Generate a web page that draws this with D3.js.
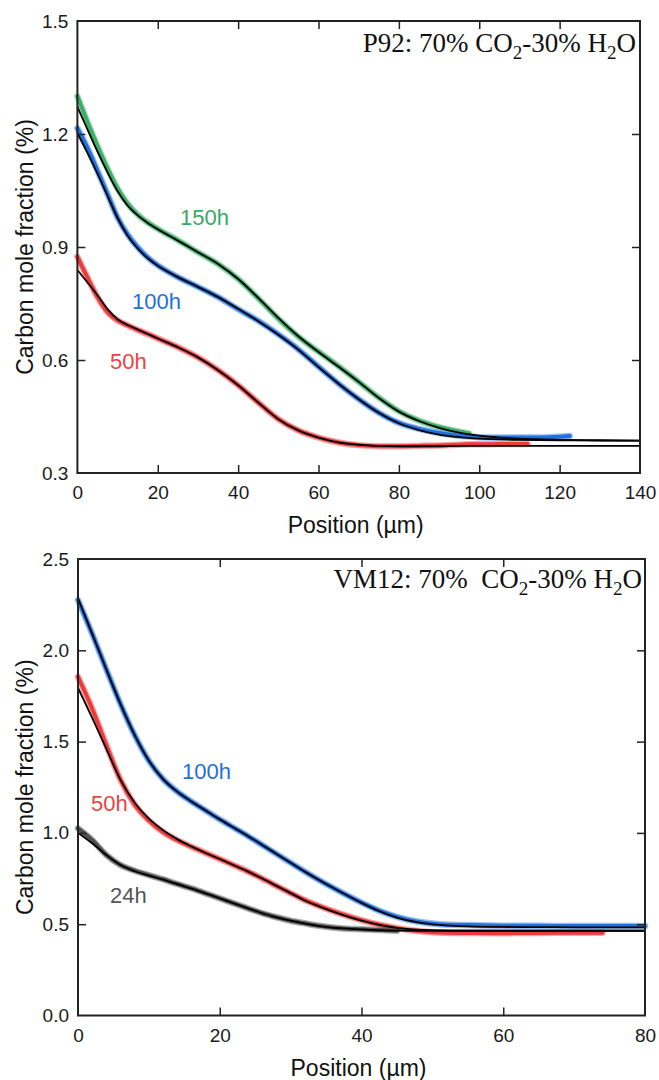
<!DOCTYPE html>
<html><head><meta charset="utf-8">
<script src="https://cdn.jsdelivr.net/npm/d3@7"></script>
<style>body{margin:0;background:#fff} svg{display:block}</style>
</head><body>
<svg id="chart" width="659" height="1080"></svg>
<script>
// ---------- Panel 1: P92 ----------
const p92MeasX = [0,2.5,5,7.5,10,12.5,15,17.5,20,25,30,35,40,45,50,55,60,65,70,75,80,85,90,95,97.5,100,105,110,112,115,120,122.5];
const p92Meas150 = [1.30,1.232,1.168,1.108,1.055,1.015,0.986,0.965,0.948,0.918,0.886,0.855,0.815,0.764,0.710,0.662,0.622,0.583,0.542,0.500,0.464,0.439,0.422,0.410,0.405,null,null,null,null,null,null,null];
const p92Meas100 = [1.215,1.163,1.102,1.040,0.978,0.933,0.899,0.872,0.851,0.820,0.794,0.767,0.735,0.704,0.668,0.628,0.582,0.537,0.496,0.460,0.433,0.417,0.406,0.399,0.397,0.395,0.394,0.394,0.394,0.394,0.396,0.398];
const p92Meas50 = [0.874,0.819,0.767,0.727,0.705,0.692,0.680,0.669,0.657,0.634,0.607,0.573,0.533,0.487,0.443,0.413,0.394,0.381,0.374,0.371,0.371,0.372,0.373,0.375,0.376,0.376,0.377,0.377,0.377,null,null,null];
const p92FitX = [0,2.5,5,7.5,10,12.5,15,17.5,20,25,30,35,40,45,50,55,60,65,70,75,80,85,90,95,100,110,120,130,140];
const p92Fit150 = [1.272,1.212,1.153,1.098,1.048,1.010,0.984,0.964,0.947,0.917,0.886,0.855,0.815,0.765,0.712,0.663,0.621,0.582,0.542,0.499,0.463,0.438,0.420,0.407,0.399,0.391,0.388,0.387,0.386];
const p92Fit100 = [1.202,1.150,1.095,1.036,0.977,0.930,0.896,0.870,0.850,0.820,0.794,0.767,0.736,0.703,0.667,0.627,0.581,0.537,0.496,0.460,0.432,0.414,0.402,0.395,0.391,0.388,0.387,0.386,0.386];
const p92Fit50 = [0.839,0.806,0.772,0.735,0.708,0.693,0.681,0.669,0.657,0.634,0.607,0.573,0.533,0.487,0.443,0.413,0.394,0.381,0.375,0.372,0.371,0.371,0.371,0.372,0.372,0.372,0.372,0.372,0.372];
const p92XTicks = [0,20,40,60,80,100,120,140];
const p92YTicks = [0.3,0.6,0.9,1.2,1.5];
const p92Labels = ["150h","100h","50h"];

// ---------- Panel 2: VM12 ----------
const vmMeasX = [0,2,4,6,8,10,12,14,16,18,20,22,24,26,28,30,32,34,37,40,42.5,45,48,51,55,60,65,70,74,80];
const vmMeas100 = [2.275,2.09,1.895,1.705,1.535,1.395,1.295,1.226,1.172,1.123,1.074,1.028,0.982,0.934,0.885,0.836,0.788,0.742,0.678,0.618,0.574,0.540,0.513,0.500,0.495,0.492,0.491,0.490,0.490,0.490];
const vmMeas50 = [1.855,1.68,1.48,1.29,1.155,1.068,1.005,0.960,0.924,0.890,0.857,0.823,0.788,0.750,0.710,0.670,0.632,0.600,0.558,0.522,0.497,0.478,0.463,0.455,0.452,0.451,0.452,0.453,0.453,null];
const vmMeas24 = [1.025,0.961,0.879,0.824,0.793,0.769,0.746,0.720,0.696,0.669,0.642,0.614,0.587,0.560,0.538,0.519,0.505,0.492,0.478,0.472,0.468,0.464,null,null,null,null,null,null,null,null];
const vmFitX = [0,2,4,6,8,10,12,14,16,18,20,22,24,26,28,30,32,34,37,40,42.5,45,48,51,55,60,65,70,80];
const vmFit100 = [2.285,2.09,1.895,1.705,1.535,1.395,1.295,1.226,1.172,1.123,1.074,1.028,0.982,0.934,0.885,0.836,0.788,0.742,0.678,0.617,0.572,0.536,0.510,0.496,0.488,0.485,0.484,0.483,0.483];
const vmFit50 = [1.795,1.63,1.46,1.29,1.165,1.078,1.015,0.966,0.926,0.890,0.857,0.823,0.788,0.750,0.710,0.670,0.630,0.598,0.555,0.519,0.496,0.480,0.470,0.466,0.464,0.464,0.464,0.464,0.464];
const vmFit24 = [1.001,0.943,0.879,0.824,0.790,0.766,0.744,0.719,0.695,0.669,0.642,0.614,0.587,0.560,0.538,0.519,0.503,0.490,0.478,0.471,0.467,0.465,0.464,0.464,0.464,0.464,0.464,0.464,0.464];
const vmXTicks = [0,20,40,60,80];
const vmYTicks = [0.0,0.5,1.0,1.5,2.0,2.5];
const vmLabels = ["100h","50h","24h"];

const svg = d3.select('#chart');
const FRAME = '#222';

function drawPanel(cfg) {
  const x = d3.scaleLinear().domain(cfg.xDomain).range([cfg.left, cfg.right]);
  const y = d3.scaleLinear().domain(cfg.yDomain).range([cfg.bottom, cfg.top]);
  const g = svg.append('g');
  const measLine = d3.line().defined(d => d[1] != null)
    .x(d => x(d[0])).y(d => y(d[1])).curve(d3.curveMonotoneX);

  // measured data (colored scatter bands)
  cfg.meas.forEach(s => {
    const pts = cfg.measX.map((xv, i) => [xv, s.values[i]]);
    g.append('path').datum(pts)
      .attr('fill', 'none').attr('stroke', s.color).attr('stroke-opacity', 0.45)
      .attr('stroke-width', 6.5).attr('stroke-linecap', 'round').attr('stroke-linejoin', 'round')
      .attr('d', measLine);
    g.append('path').datum(pts)
      .attr('fill', 'none').attr('stroke', s.color)
      .attr('stroke-width', 4).attr('stroke-linecap', 'round').attr('stroke-linejoin', 'round')
      .attr('d', measLine);
  });
  // fits (black)
  cfg.fits.forEach(vals => {
    const pts = cfg.fitX.map((xv, i) => [xv, vals[i]]);
    g.append('path').datum(pts)
      .attr('fill', 'none').attr('stroke', '#000').attr('stroke-width', 1.8)
      .attr('d', d3.line().x(d => x(d[0])).y(d => y(d[1])).curve(d3.curveMonotoneX));
  });

  // axes with inward ticks
  const fmtY = d3.format('.1f');
  const axB = g.append('g').attr('transform', `translate(0,${cfg.bottom})`)
    .call(d3.axisBottom(x).tickValues(cfg.xTicks).tickSizeInner(-8).tickSizeOuter(0).tickPadding(13).tickFormat(d3.format('d')));
  const axL = g.append('g').attr('transform', `translate(${cfg.left},0)`)
    .call(d3.axisLeft(y).tickValues(cfg.yTicks).tickSizeInner(-8).tickSizeOuter(0).tickPadding(9).tickFormat(fmtY));
  const axT = g.append('g').attr('transform', `translate(0,${cfg.top})`)
    .call(d3.axisTop(x).tickValues(cfg.xTicks.slice(1, -1)).tickSizeInner(-8).tickSizeOuter(0).tickFormat(''));
  const axR = g.append('g').attr('transform', `translate(${cfg.right},0)`)
    .call(d3.axisRight(y).tickValues(cfg.yTicks.slice(1, -1)).tickSizeInner(-8).tickSizeOuter(0).tickFormat(''));
  [axB, axL, axT, axR].forEach(a => {
    a.select('.domain').remove();
    a.selectAll('line').attr('stroke', FRAME).attr('stroke-width', 1.5);
    a.selectAll('text').attr('fill', '#1a1a1a').style('font-family', '"Liberation Sans", Arial, sans-serif').style('font-size', '19px');
  });
  axB.selectAll('.tick').filter(d => d === cfg.xTicks[0] || d === cfg.xTicks[cfg.xTicks.length-1]).select('line').remove();
  axL.selectAll('.tick').filter(d => d === cfg.yTicks[0] || d === cfg.yTicks[cfg.yTicks.length-1]).select('line').remove();

  // frame
  g.append('rect').attr('x', cfg.left).attr('y', cfg.top)
    .attr('width', cfg.right - cfg.left).attr('height', cfg.bottom - cfg.top)
    .attr('fill', 'none').attr('stroke', FRAME).attr('stroke-width', 2);

  // axis titles
  g.append('text').attr('x', (cfg.left + cfg.right) / 2 - 3).attr('y', cfg.bottom + 60)
    .attr('text-anchor', 'middle').attr('fill', '#111')
    .style('font-family', '"Liberation Sans", Arial, sans-serif').style('font-size', '23px')
    .text('Position (\u00b5m)');
  g.append('text').attr('transform', `translate(33,${(cfg.top + cfg.bottom) / 2}) rotate(-90)`)
    .attr('text-anchor', 'middle').attr('fill', '#111')
    .style('font-family', '"Liberation Sans", Arial, sans-serif').style('font-size', '23px')
    .text('Carbon mole fraction (%)');

  // series labels
  cfg.labels.forEach((t, i) => {
    const p = cfg.labelPos[i];
    g.append('text').attr('x', p[0]).attr('y', p[1]).attr('fill', cfg.meas[i].labelColor)
      .style('font-family', '"Liberation Sans", Arial, sans-serif').style('font-size', '22px')
      .text(t);
  });

  // title with subscripts
  const tt = g.append('text').attr('x', cfg.titleX).attr('y', cfg.titleY).attr('text-anchor', 'end')
    .attr('fill', '#111').style('font-family', '"Liberation Serif", "Times New Roman", serif').style('font-size', '27px');
  tt.append('tspan').text(cfg.titleParts[0]);
  tt.append('tspan').attr('dy', 7).style('font-size', '19px').text('2');
  tt.append('tspan').attr('dy', -7).text('-30% H');
  tt.append('tspan').attr('dy', 7).style('font-size', '19px').text('2');
  tt.append('tspan').attr('dy', -7).text('O');
}

drawPanel({
  left: 77.4, right: 640, top: 21, bottom: 473,
  xDomain: [0, 140], yDomain: [0.3, 1.5],
  xTicks: p92XTicks, yTicks: p92YTicks,
  measX: p92MeasX,
  meas: [
    {values: p92Meas150, color: '#3cae66', labelColor: '#3aa862'},
    {values: p92Meas100, color: '#1f72de', labelColor: '#1f6fdc'},
    {values: p92Meas50, color: '#ec3b3d', labelColor: '#e94343'}
  ],
  fitX: p92FitX, fits: [p92Fit150, p92Fit100, p92Fit50],
  labels: p92Labels, labelPos: [[180, 225], [132, 309], [110, 369]],
  titleX: 636, titleY: 52, titleParts: ['P92: 70% CO']
});

drawPanel({
  left: 78, right: 645, top: 559, bottom: 1015.5,
  xDomain: [0, 80], yDomain: [0, 2.5],
  xTicks: vmXTicks, yTicks: vmYTicks,
  measX: vmMeasX,
  meas: [
    {values: vmMeas100, color: '#1f72de', labelColor: '#1f6fdc'},
    {values: vmMeas50, color: '#ec3b3d', labelColor: '#e94343'},
    {values: vmMeas24, color: '#4e4e4e', labelColor: '#555555'}
  ],
  fitX: vmFitX, fits: [vmFit100, vmFit50, vmFit24],
  labels: vmLabels, labelPos: [[182, 779], [91, 811], [110, 903]],
  titleX: 642, titleY: 588, titleParts: ['VM12: 70%\u00a0 CO']
});
</script>
</body></html>
